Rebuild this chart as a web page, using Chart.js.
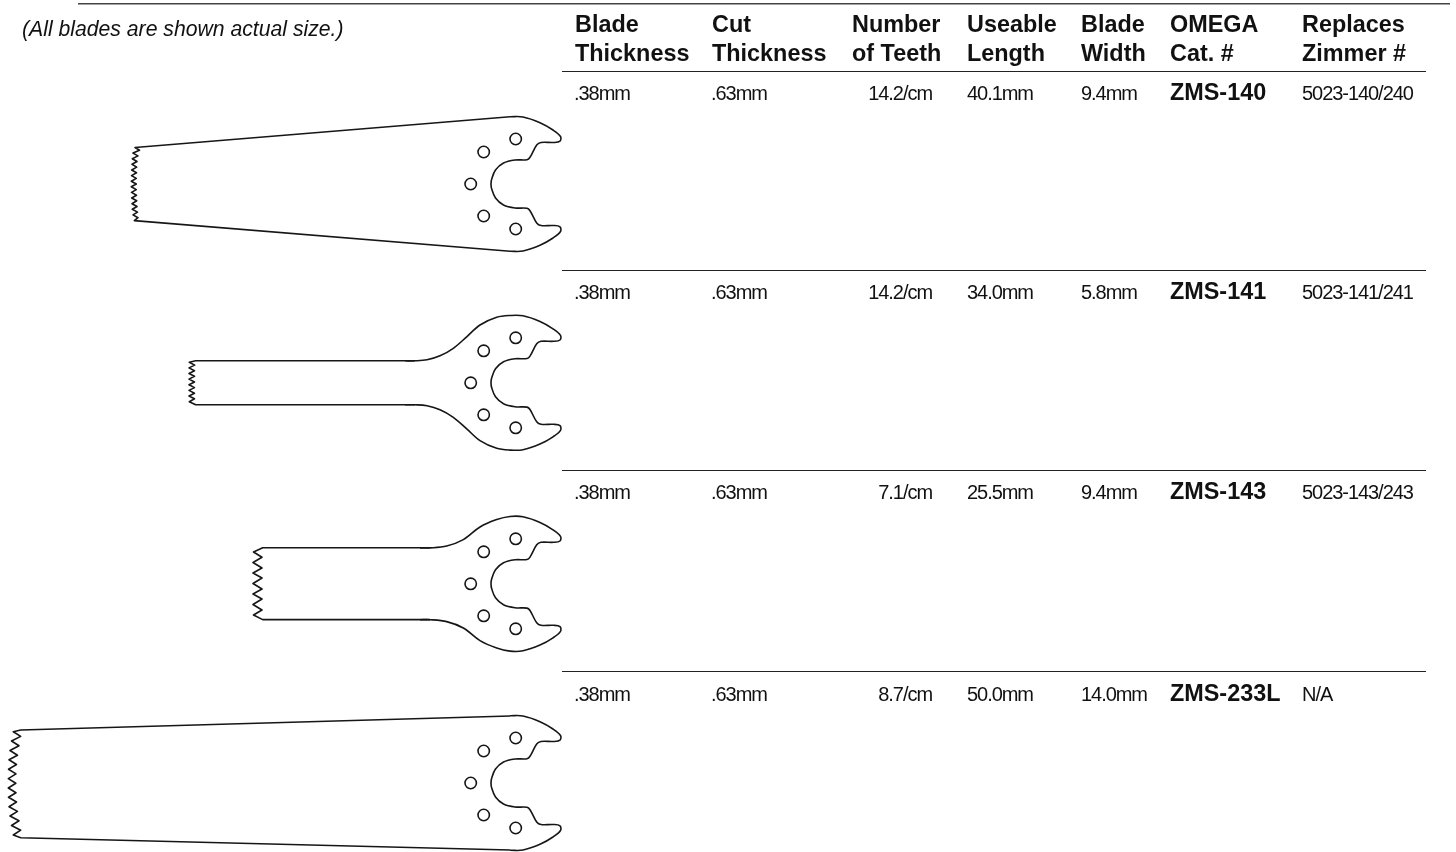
<!DOCTYPE html>
<html><head><meta charset="utf-8">
<style>html,body{margin:0;padding:0;background:#fff;overflow:hidden}canvas{display:block}</style>
<script src="https://cdn.jsdelivr.net/npm/chart.js@4"></script></head>
<body><canvas id="c" width="1456" height="852"></canvas>
<script>
const note = "(All blades are shown actual size.)";
const headerLine1 = ["Blade","Cut","Number","Useable","Blade","OMEGA","Replaces"];
const headerLine2 = ["Thickness","Thickness","of Teeth","Length","Width","Cat. #","Zimmer #"];
const bladeThickness = [".38mm",".38mm",".38mm",".38mm"];
const cutThickness = [".63mm",".63mm",".63mm",".63mm"];
const teethCount = ["14.2/cm","14.2/cm","7.1/cm","8.7/cm"];
const useableLength = ["40.1mm","34.0mm","25.5mm","50.0mm"];
const bladeWidth = ["9.4mm","5.8mm","9.4mm","14.0mm"];
const catalogNo = ["ZMS-140","ZMS-141","ZMS-143","ZMS-233L"];
const replacesNo = ["5023-140/240","5023-141/241","5023-143/243","N/A"];
const rowBaselines = [100,299,499,701];
const colX = [575,712,852,967,1081,1170,1302];
const topRule = [[78,3.7],[1450,3.7]];
const ruleYs = [71.5,270.5,470.5,671.5];
const ruleStartEnd = [562,1426];

// Outline of the head, relative to the blade's centre line (upper half, outside to inside)
const headUpper = [[510,-67.3],[523,-67],[540,-61.3],[553,-54],[560.5,-47.5],[560,-42.8],[553.5,-41.5],[541,-41.5],[536.7,-39],[530,-26.7],[527,-24.3],[515,-24],[503.5,-21],[495.5,-14],[491.7,-5],[491,0]];
const holes = [[515.7,-45],[483.7,-32],[470.7,0],[483.7,32],[515.7,45]];
const centers = [184,382.8,583.8,783];

const teeth1 = [[510,116.7],[135,147.5],[139.5,150.3],[133,153.1],[138,155.9],[132.3,158.7],[137,161.5],[132,164.3],[136.7,167.1],[131.7,170],[136.5,172.8],[131.5,175.6],[136.3,178.4],[131.3,181.2],[136.3,184],[131.3,186.8],[136.3,189.6],[131.5,192.4],[136.5,195.2],[131.7,198],[136.7,200.8],[132,203.7],[137,206.5],[132.3,209.3],[137.5,212.1],[133,214.9],[138,217.7],[134.3,220.6],[510,251.3]];
const teeth2 = [[415,360.8],[195.7,360.8],[189.3,362.3],[194.7,365.1],[189,367.9],[194.5,370.7],[189,373.5],[194.5,376.3],[189,379.1],[194.5,382],[189,384.8],[194.5,387.6],[189,390.4],[194.5,393.2],[189,396],[194.5,398.8],[189.3,401.7],[195.7,404.8],[415,404.8]];
const teeth3 = [[430,547.8],[262.7,547.8],[253.5,552],[262,557.3],[253,562.5],[262,568],[253,573],[262,578],[253,583.5],[262,589],[253,594],[262,599],[253,604.5],[262,610],[253.5,615],[262.7,619.6],[430,619.6]];
const teeth4 = [[510,716],[20.7,730],[13.3,731.7],[20.7,736.4],[11.5,741],[19,745.7],[10,750.5],[17.5,755.2],[9,759.8],[16.5,764.5],[8.5,769.2],[16,773.9],[8.3,778.6],[15.8,783.3],[8.3,788],[16,792.7],[8.5,797.3],[16.5,802],[9,806.7],[17.5,811.4],[10,816],[19,820.8],[11.5,825.5],[20.7,830.2],[13.3,835],[20.7,837.7],[510,850]];
const shoulder2 = [[405,-22],[415,-22],[427,-23],[440,-27],[453.3,-34.5],[466.7,-46],[480,-57.8],[496.7,-65.5]];
const shoulder3 = [[420,-35.9],[430,-35.9],[446.7,-37.8],[463.3,-44.2],[480,-56.8],[496.7,-64.2]];
const shoulders = [[],shoulder2,shoulder3,[]];
const teeth = [teeth1,teeth2,teeth3,teeth4];

const ink = "#161616";
const pt = p => ({x:p[0],y:p[1]});
const datasets = [];
function line(points,width,color,tension){
  datasets.push({type:"line",data:points.map(pt),borderColor:color,borderWidth:width,tension:tension,pointRadius:0,fill:false,parsing:false,clip:false,borderJoinStyle:"round"});
}
line(topRule,1.6,"#444",0);
ruleYs.forEach(y=>line([[ruleStartEnd[0],y],[ruleStartEnd[1],y]],1.2,"#222",0));
centers.forEach((cy,i)=>{
  line(teeth[i],1.6,ink,0);
  const upper = shoulders[i].concat(headUpper);
  const lower = upper.slice(0,-1).reverse();
  const all = upper.map(p=>[p[0],cy+p[1]]).concat(lower.map(p=>[p[0],cy-p[1]]));
  line(all,1.6,ink,0.35);
  datasets.push({type:"scatter",showLine:false,data:holes.map(h=>({x:h[0],y:cy+h[1]})),pointRadius:5.7,pointHoverRadius:5.7,pointBorderWidth:1.6,pointBorderColor:ink,pointBackgroundColor:"#fff",parsing:false});
});

const textPlugin = {id:"tableText",afterDraw(chart){
  const c = chart.ctx; c.save();
  c.fillStyle = "#111"; c.textBaseline = "alphabetic"; c.textAlign = "left";
  c.font = "italic 21.2px 'Liberation Sans'"; c.letterSpacing = "0px";
  c.fillText(note,22,36);
  c.font = "bold 23.4px 'Liberation Sans'"; c.letterSpacing = "0px";
  headerLine1.forEach((t,i)=>c.fillText(t,colX[i],32));
  headerLine2.forEach((t,i)=>c.fillText(t,colX[i],61));
  rowBaselines.forEach((y,r)=>{
    c.font = "20px 'Liberation Sans'"; c.letterSpacing = "-1.05px";
    c.fillText(bladeThickness[r],574,y);
    c.fillText(cutThickness[r],711,y);
    c.textAlign = "right"; c.fillText(teethCount[r],932,y); c.textAlign = "left";
    c.fillText(useableLength[r],967,y);
    c.fillText(bladeWidth[r],1081,y);
    c.fillText(replacesNo[r],1302,y);
    c.font = "bold 23.4px 'Liberation Sans'"; c.letterSpacing = "0px";
    c.fillText(catalogNo[r],1170,y);
  });
  c.restore();
}};

new Chart(document.getElementById("c"),{
  data:{datasets},
  plugins:[textPlugin],
  options:{responsive:false,animation:false,events:[],
    layout:{padding:0,autoPadding:false},
    plugins:{legend:{display:false},tooltip:{enabled:false}},
    scales:{x:{type:"linear",display:false,min:0,max:1456},y:{type:"linear",display:false,min:0,max:852,reverse:true}}
  }
});
</script></body></html>
